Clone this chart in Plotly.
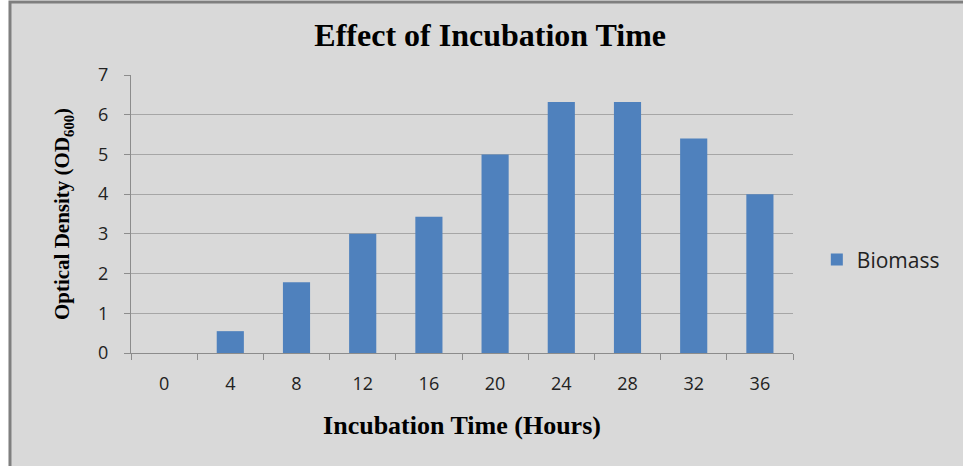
import plotly.graph_objects as go

# Dados
horas = ["0", "4", "8", "12", "16", "20", "24", "28", "32", "36"]
biomassa = [0, 0.55, 1.78, 3.0, 3.43, 5.0, 6.32, 6.32, 5.4, 4.0]
y_ticks = [0, 1, 2, 3, 4, 5, 6, 7]

AZUL = "#4f81bd"
CINZA_FUNDO = "#d9d9d9"
CINZA_LINHA = "#8c8c8c"
SERIF = "Liberation Serif"
SANS = "Open Sans"

fig = go.Figure()
fig.add_trace(go.Bar(
    x=horas,
    y=biomassa,
    name="Biomass",
    marker=dict(color=AZUL, line=dict(width=0)),
))

# Moldura cinza do gráfico (estilo Excel)
fig.add_shape(
    type="rect", xref="paper", yref="paper",
    x0=-0.1828, x1=1.30, y0=-0.45, y1=1.2626,
    fillcolor=CINZA_FUNDO, line=dict(color="#7f7f7f", width=3),
    layer="below",
)

fig.update_layout(
    width=963, height=466,
    margin=dict(l=131, r=170, t=75, b=113),
    paper_bgcolor="white",
    plot_bgcolor="white",
    bargap=0.59,
    title=dict(
        text="<b>Effect of Incubation Time</b>",
        x=0.509, xref="container", xanchor="center",
        y=0.925, yref="container", yanchor="middle",
        font=dict(family=SERIF, size=32, color="black"),
    ),
    showlegend=True,
    legend=dict(
        x=1.036, y=0.335, xanchor="left", yanchor="middle",
        bgcolor="rgba(0,0,0,0)",
        font=dict(family=SANS, size=21, color="#222222"),
    ),
)

fig.update_xaxes(
    type="category",
    tickson="boundaries",
    ticks="outside", ticklen=6, tickcolor=CINZA_LINHA,
    showline=True, linecolor=CINZA_LINHA, linewidth=1,
    showgrid=False,
    tickfont=dict(family=SANS, size=18, color="#222222"),
    ticklabelstandoff=14,
    title=dict(text="<b>Incubation Time (Hours)</b>",
               font=dict(family=SERIF, size=26, color="black"), standoff=22),
)

fig.update_yaxes(
    range=[0, 7],
    tickvals=y_ticks,
    ticks="outside", ticklen=6, tickcolor=CINZA_LINHA,
    showline=True, linecolor=CINZA_LINHA, linewidth=1,
    showgrid=True, gridcolor="#a6a6a6", gridwidth=1,
    zeroline=False,
    tickfont=dict(family=SANS, size=18, color="#222222"),
    ticklabelstandoff=12,
    title=dict(text="<b>Optical Density (OD<sub>600</sub>)</b>",
               font=dict(family=SERIF, size=21, color="black"), standoff=22),
)

# Remove a margem padrão do <body> para o gráfico ocupar a janela inteira
fig.write_html(
    "out.html",
    config={"displayModeBar": False},
    post_script="document.body.style.margin='0';",
)
